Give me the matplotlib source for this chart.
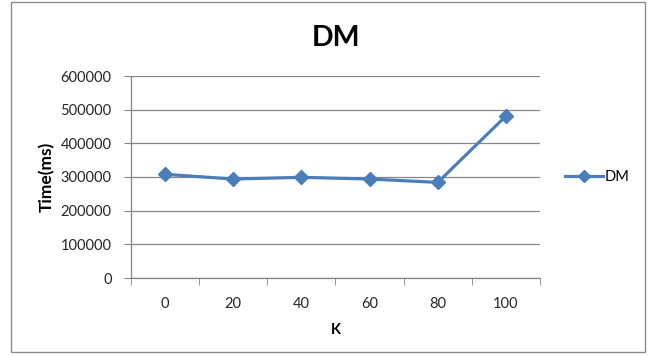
import matplotlib
matplotlib.use("Agg")
import matplotlib.pyplot as plt
import matplotlib.patches as mpatches
import numpy as np

categories = ["0", "20", "40", "60", "80", "100"]
dm_time = [308000, 294000, 299000, 294000, 284000, 481000]
y_ticks = [0, 100000, 200000, 300000, 400000, 500000, 600000]

plt.rcParams["font.family"] = ["Lato", "DejaVu Sans"]

LINE = "#4a7ebb"
GRID = "#868686"

fig = plt.figure(figsize=(6.5, 3.56), dpi=100)
fig.patch.set_facecolor("white")
fig.patches.append(mpatches.Rectangle((11 / 650, 4 / 356), 634 / 650, 350 / 356,
                                      transform=fig.transFigure, fill=False,
                                      edgecolor="#8c8c8c", linewidth=1.0))

ax = fig.add_axes([131 / 650, 78 / 356, 409 / 650, 202 / 356])
xs = np.arange(len(categories))
ax.plot(xs, dm_time, color=LINE, linewidth=2.3, marker="D", markersize=7.5,
        markerfacecolor=LINE, markeredgecolor=LINE, label="DM", zorder=3)

ax.set_xlim(-0.5, len(categories) - 0.5)
ax.set_ylim(0, 600000)
ax.set_yticks(y_ticks)
ax.set_yticklabels([str(v) for v in y_ticks], fontsize=10.5, color="#262626")
ax.yaxis.grid(True, color=GRID, linewidth=0.9)
ax.set_axisbelow(True)

ax.set_xticks(xs)
ax.set_xticklabels(categories, fontsize=10.5, color="#262626")
ax.set_xticks(np.arange(-0.5, len(categories)), minor=True)
ax.tick_params(axis="x", which="major", length=0, pad=14)
ax.tick_params(axis="x", which="minor", length=5, color=GRID, direction="out")
ax.tick_params(axis="y", length=5, color=GRID, direction="out", pad=9)

for sp in ("top", "right"):
    ax.spines[sp].set_visible(False)
for sp in ("left", "bottom"):
    ax.spines[sp].set_color(GRID)
    ax.spines[sp].set_linewidth(0.9)

ax.set_xlabel("K", fontsize=10.5, fontweight="bold", labelpad=8)
ax.set_ylabel("Time(ms)", fontsize=12.5, fontweight="bold", labelpad=4)
fig.text(0.5 * (131 + 540) / 650, 1 - 38 / 356, "DM", fontsize=20.5,
         fontweight="bold", ha="center", va="center")

ax.legend(loc="center left", bbox_to_anchor=(1.03, 0.5), frameon=False,
          fontsize=10.5, handlelength=2.6, handletextpad=0.1, markerscale=0.8)

fig.savefig("out.png", dpi=100)
